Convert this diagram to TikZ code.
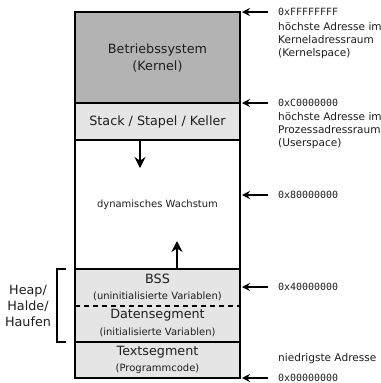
\documentclass[tikz,border=0pt]{standalone}
\usepackage{fontspec}
\setmainfont{DejaVu Sans}
\setmonofont{DejaVu Sans Mono}
\usetikzlibrary{arrows.meta}
\definecolor{kgray}{RGB}{179,179,179}
\definecolor{lgray}{RGB}{229,229,229}
\definecolor{txtc}{RGB}{30,30,30}
\begin{document}
\begin{tikzpicture}[x=1bp,y=-1bp,
  seg/.style={draw=black,line width=1.3bp},
  addr/.style={font=\fontsize{10}{12}\selectfont\ttfamily,anchor=west,inner sep=0,text=txtc},
  note/.style={font=\fontsize{10.6}{13}\selectfont,anchor=west,inner sep=0,align=left,text=txtc},
  big/.style={font=\fontsize{12.8}{16.5}\selectfont,inner sep=0,align=center,text=txtc},
  small/.style={font=\fontsize{10}{12}\selectfont,inner sep=0,text=txtc},
  ptr/.style={-{Stealth[length=8bp,width=8bp]},line width=1.3bp},
  growarrow/.style={-{Stealth[length=11bp,width=11bp]},line width=1.3bp},
]
\useasboundingbox (0,0) rectangle (381,383);
% segments
\path[seg,fill=kgray] (75,12) rectangle (240,103);
\path[seg,fill=lgray] (75,103) rectangle (240,140);
\path[seg,fill=white] (75,140) rectangle (240,269);
\path[seg,fill=lgray] (75,269) rectangle (240,342);
\path[seg,fill=lgray] (75,342) rectangle (240,378);
\draw[line width=1.3bp,dash pattern=on 5bp off 4bp] (75,306) -- (240,306);
% texts
\node[big] (kern) at (157.5,58) {Betriebssystem\\(Kernel)};
\node[big] (stack) at (157.5,122) {Stack / Stapel / Keller};
\node[small] (dyn) at (157.5,205) {dynamisches Wachstum};
\node[big] (bss) at (157.5,279) {BSS};
\node[small] (bssv) at (157.5,296) {(uninitialisierte Variablen)};
\node[big] (dat) at (157.5,315) {Datensegment};
\node[small] (datv) at (157.5,332) {(initialisierte Variablen)};
\node[big] (txt) at (157.5,352) {Textsegment};
\node[small] (txtv) at (157.5,369) {(Programmcode)};
% growth arrows
\coordinate (sd0) at (140,140); \coordinate (sd1) at (140,168);
\coordinate (hu0) at (177,269); \coordinate (hu1) at (177,241);
\draw[growarrow] (sd0) -- (sd1);
\draw[growarrow] (hu0) -- (hu1);
% address pointers
\foreach \n/\y in {a/12,b/103,c/195,d/287,e/378}{
  \coordinate (\n0) at (268,\y); \coordinate (\n1) at (242,\y);
  \draw[ptr] (\n0) -- (\n1);
}
\node[addr] (aF) at (278,12) {0xFFFFFFFF};
\node[note,anchor=north west] (aFn) at (278,22) {höchste Adresse im\\Kerneladressraum\\(Kernelspace)};
\node[addr] (aC) at (278,103) {0xC0000000};
\node[note,anchor=north west] (aCn) at (278,112.5) {höchste Adresse im\\Prozessadressraum\\(Userspace)};
\node[addr] (a8) at (278,195) {0x80000000};
\node[addr] (a4) at (278,287) {0x40000000};
\node[note] (low) at (278,359) {niedrigste Adresse};
\node[addr] (a0) at (278,377.5) {0x00000000};
% heap bracket
\coordinate (h0) at (66,269); \coordinate (h1) at (57,269);
\coordinate (h2) at (57,342); \coordinate (h3) at (66,342);
\draw[line width=1.3bp] (h0) -- (h1) -- (h2) -- (h3);
\node[big,font=\fontsize{12.8}{16}\selectfont] (heap) at (28,306) {Heap/\\Halde/\\Haufen};
\end{tikzpicture}
\end{document}
